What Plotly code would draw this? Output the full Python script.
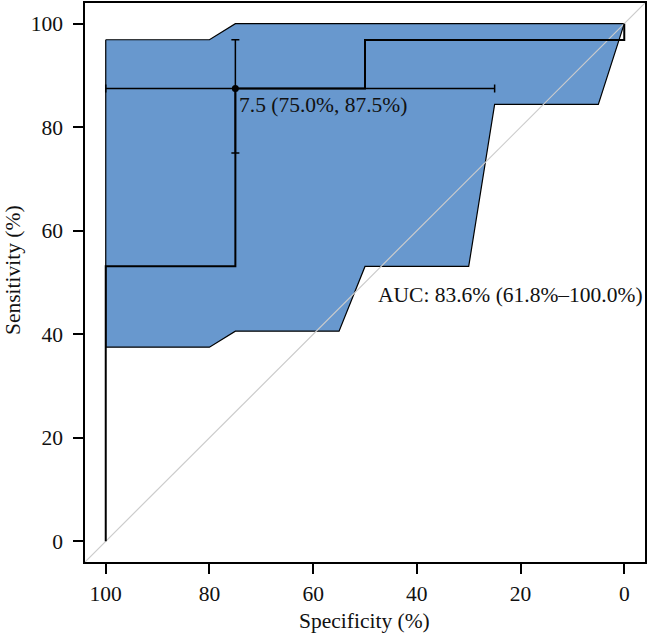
import plotly.graph_objects as go

# ROC curve (specificity %, sensitivity %)
roc_spec = [100, 100, 75, 75, 50, 50, 0, 0]
roc_sens = [0, 53.125, 53.125, 87.5, 87.5, 96.875, 96.875, 100]

# Confidence shape of sensitivity at given specificities
ci_spec = [100, 80, 75, 0, 5, 25, 30, 50, 55, 75, 80, 100, 100]
ci_sens = [96.9, 96.9, 100, 100, 84.4, 84.4, 53.1, 53.1, 40.6, 40.6, 37.5, 37.5, 96.9]

# Best threshold and its CIs
thr_value = 7.5
thr_spec = 75.0
thr_sens = 87.5
thr_spec_ci = [25.0, 100.0]
thr_sens_ci = [75.0, 96.9]

auc_label = "AUC: 83.6% (61.8%\u2013100.0%)"
thr_label = "7.5 (75.0%, 87.5%)"

x_ticks = [100, 80, 60, 40, 20, 0]
y_ticks = [0, 20, 40, 60, 80, 100]

FONT = "Liberation Serif"
FS = 21.5

fig = go.Figure()

fig.add_trace(go.Scatter(
    x=ci_spec, y=ci_sens, mode="lines", fill="toself",
    fillcolor="#6898CE", line=dict(color="black", width=1.2),
    hoverinfo="skip", showlegend=False))

fig.add_trace(go.Scatter(
    x=[104, -4], y=[-4, 104], mode="lines",
    line=dict(color="#CCCCCC", width=1.2), showlegend=False))

fig.add_trace(go.Scatter(
    x=roc_spec, y=roc_sens, mode="lines",
    line=dict(color="black", width=2), showlegend=False))

fig.add_trace(go.Scatter(
    x=[thr_spec], y=[thr_sens], mode="markers",
    marker=dict(color="black", size=7),
    error_x=dict(type="data", symmetric=False,
                 array=[thr_spec_ci[1] - thr_spec],
                 arrayminus=[thr_spec - thr_spec_ci[0]],
                 color="black", thickness=1.5, width=4),
    error_y=dict(type="data", symmetric=False,
                 array=[thr_sens_ci[1] - thr_sens],
                 arrayminus=[thr_sens - thr_sens_ci[0]],
                 color="black", thickness=1.5, width=4),
    showlegend=False))

fig.add_annotation(x=74.6, y=84.2, text=thr_label, showarrow=False,
                   xanchor="left", yanchor="middle",
                   font=dict(family=FONT, size=FS, color="#111"))
fig.add_annotation(x=47.9, y=47.6, text=auc_label, showarrow=False,
                   xanchor="left", yanchor="middle",
                   font=dict(family=FONT, size=FS, color="#111"))

# axis titles
fig.add_annotation(x=(364 - 85) / 560, y=-(621 - 562) / 559, xref="paper", yref="paper",
                   text="Specificity (%)", showarrow=False,
                   xanchor="center", yanchor="middle",
                   font=dict(family=FONT, size=FS, color="#111"))
fig.add_annotation(x=-(85 - 13) / 560, y=(562 - 270) / 559, xref="paper", yref="paper",
                   text="Sensitivity (%)", showarrow=False, textangle=-90,
                   xanchor="center", yanchor="middle",
                   font=dict(family=FONT, size=FS, color="#111"))

axis_common = dict(showgrid=False, zeroline=False, showline=True, mirror=True,
                   linecolor="black", linewidth=1.5, ticks="outside",
                   ticklen=10, tickwidth=1.5, tickcolor="black", automargin=False,
                   tickfont=dict(family=FONT, size=FS, color="#111"))

fig.update_layout(
    width=647, height=633,
    margin=dict(l=85, r=2, t=3, b=71),
    plot_bgcolor="white", paper_bgcolor="white",
    xaxis=dict(range=[104, -4], tickvals=x_ticks, ticktext=[str(v) for v in x_ticks],
               ticklabelstandoff=1, **axis_common),
    yaxis=dict(range=[-4, 104], tickvals=y_ticks, ticktext=[str(v) for v in y_ticks],
               ticklabelstandoff=6, **axis_common),
)

fig.write_html("out.html", config={"displayModeBar": False},
               post_script="document.body.style.margin='0';")
